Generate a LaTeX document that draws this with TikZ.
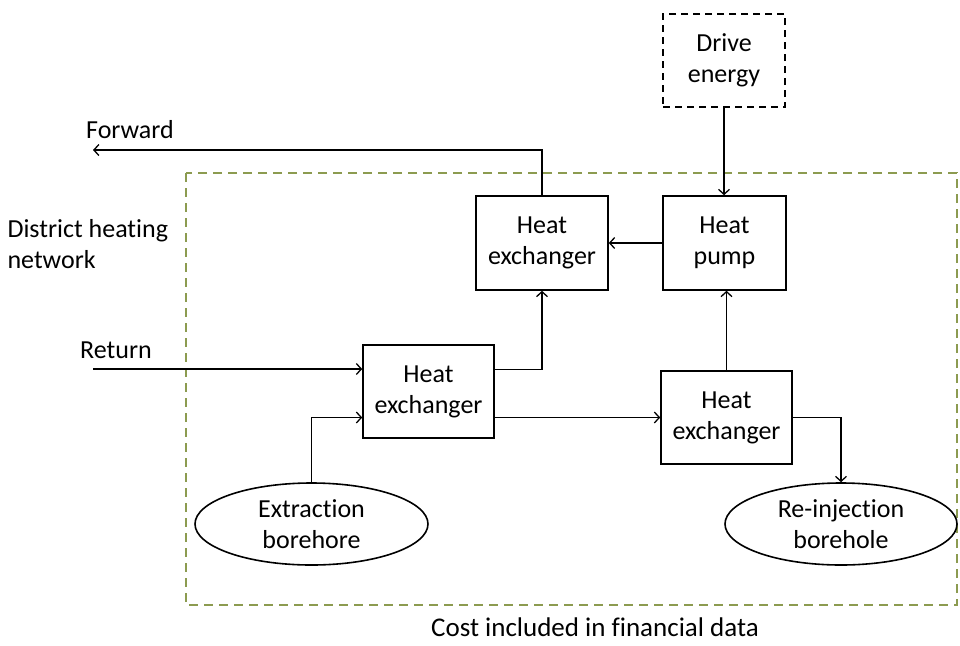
\documentclass[tikz,border=0pt]{standalone}
\usepackage{fontspec}
\setmainfont{Carlito}[RawFeature=-liga]
\usepackage{tikz}
\usetikzlibrary{arrows.meta,shapes.geometric}
\definecolor{costgreen}{RGB}{140,155,80}

\begin{document}
\begin{tikzpicture}[
    x=1pt, y=-1pt,
    every node/.style={align=center, font=\fontsize{26}{31}\selectfont},
    unit/.style={draw, line width=1.6pt, inner sep=0pt},
    well/.style={draw, ellipse, line width=1.6pt, inner sep=0pt},
    flow/.style={line width=1.6pt, -{Straight Barb[length=5pt, width=11pt, line width=1.3pt]}}
]
    \useasboundingbox (0,0) rectangle (960,645);
    % Cost boundary
    \draw[costgreen, line width=1.6pt, dash pattern=on 9pt off 6pt] (186,173) rectangle (957,605);
    \node[anchor=base, inner sep=0pt, font=\fontsize{27}{31}\selectfont] (cost) at (595,636) {Cost included in financial data};

    % Units
    \node[unit, dash pattern=on 7pt off 5pt, minimum width=122pt, minimum height=93pt] (drive) at (724,60.5) {Drive\\energy};
    \node[unit, minimum width=132pt, minimum height=94pt] (hxtop) at (542,243) {Heat\\exchanger};
    \node[unit, minimum width=123pt, minimum height=94pt] (pump) at (724.5,243) {Heat\\pump};
    \node[unit, minimum width=131pt, minimum height=93pt] (hxleft) at (428.5,391.5) {Heat\\exchanger};
    \node[unit, minimum width=131pt, minimum height=93pt] (hxright) at (726.5,417.5) {Heat\\exchanger};
    \node[well, minimum width=233pt, minimum height=82pt] (extract) at (311.5,524) {Extraction\\borehore};
    \node[well, minimum width=232pt, minimum height=82pt] (reinject) at (841,524) {Re-injection\\borehole};

    % Network labels
    \node (fwdlabel) at (130,130) {Forward};
    \node (retlabel) at (116,350) {Return};
    \node[align=left, anchor=west] (district) at (4,244) {District heating\\network};
    \coordinate (fwdend) at (93,150);
    \coordinate (retstart) at (93,369);

    % Flows
    \draw[flow] (hxtop.north) |- (fwdend);
    \draw[flow] (drive.south) -- (drive.south |- pump.north);
    \draw[flow] (pump.west) -- (hxtop.east);
    \draw[flow] (retstart) -- (retstart -| hxleft.west);
    \draw[flow] (extract.north) |- ([yshift=-26pt]hxleft.west);
    \draw[flow] ([yshift=22pt]hxleft.east) -| (hxtop.south);
    \draw[flow] (hxleft.east |- hxright.west) -- (hxright.west);
    \draw[flow] (hxright.north) -- (hxright.north |- pump.south);
    \draw[flow] (hxright.east) -| (reinject.north);
\end{tikzpicture}
\end{document}
